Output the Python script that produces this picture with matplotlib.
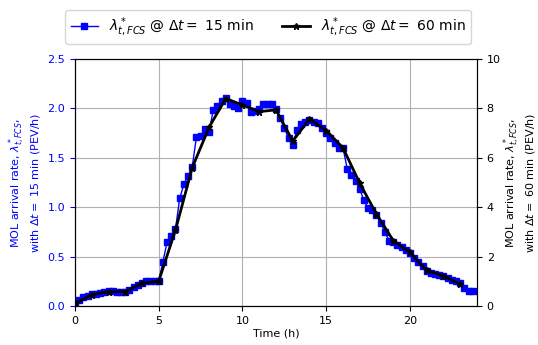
import numpy as np
from matplotlib import pyplot as plt

# 15-min rates (left axis, PEV/h per 15 min)
t15 = np.arange(96) * 0.25
rate15 = [0.03, 0.06, 0.09, 0.10, 0.12, 0.12, 0.13, 0.14,
          0.15, 0.15, 0.14, 0.14, 0.14, 0.16, 0.19, 0.21,
          0.23, 0.25, 0.25, 0.25, 0.25, 0.45, 0.65, 0.71,
          0.78, 1.09, 1.23, 1.32, 1.41, 1.71, 1.72, 1.79,
          1.76, 1.98, 2.02, 2.07, 2.11, 2.04, 2.02, 2.00,
          2.07, 2.05, 1.96, 1.97, 1.99, 2.04, 2.04, 2.04,
          1.99, 1.90, 1.80, 1.70, 1.63, 1.78, 1.84, 1.86,
          1.88, 1.86, 1.85, 1.80, 1.75, 1.70, 1.65, 1.60,
          1.60, 1.39, 1.33, 1.27, 1.18, 1.07, 0.99, 0.97,
          0.92, 0.84, 0.75, 0.66, 0.65, 0.62, 0.60, 0.57,
          0.54, 0.49, 0.45, 0.40, 0.35, 0.33, 0.32, 0.31,
          0.30, 0.28, 0.26, 0.25, 0.23, 0.18, 0.15, 0.15]

# hourly rates (right axis)
t60 = np.arange(24)
rate60 = [0.10, 0.45, 0.58, 0.58, 0.92, 1.01, 3.08, 5.60,
          7.23, 8.40, 8.14, 7.87, 7.94, 6.68, 7.57, 7.10,
          6.40, 4.97, 3.72, 2.65, 2.17, 1.44, 1.22, 0.88]

fig = plt.figure(figsize=(5.38, 3.45), dpi=100)
ax = fig.add_axes([75 / 538, 39 / 345, 402 / 538, 247 / 345])
ax2 = ax.twinx()

l1, = ax.plot(t15, rate15, color='blue', marker='s', markersize=5, linewidth=1,
              label=r'$\lambda^*_{t,FCS}$ @ $\Delta t=$ 15 min')
l2, = ax2.plot(t60, rate60, color='black', marker='*', markersize=5, linewidth=2,
               label=r'$\lambda^*_{t,FCS}$ @ $\Delta t=$ 60 min')

ax.set_xlim(0, 24)
ax.set_ylim(0, 2.5)
ax2.set_ylim(0, 10)
ax.set_xticks([0, 5, 10, 15, 20])
ax.set_yticks([0, 0.5, 1.0, 1.5, 2.0, 2.5])
ax2.set_yticks([0, 2, 4, 6, 8, 10])
ax.grid(True, color='#b0b0b0', linewidth=0.8)

ax.tick_params(axis='y', colors='blue', labelsize=8)
ax.tick_params(axis='x', labelsize=8)
ax2.tick_params(axis='y', labelsize=8)
ax.set_xlabel('Time (h)', fontsize=8, labelpad=2)
ax.set_ylabel('MOL arrival rate, $\\lambda^*_{t,FCS}$,\nwith $\\Delta t=$ 15 min (PEV/h)',
              color='blue', fontsize=8)
ax2.set_ylabel('MOL arrival rate, $\\lambda^*_{t,FCS}$,\nwith $\\Delta t=$ 60 min (PEV/h)',
               fontsize=8, labelpad=0)

fig.legend(handles=[l1, l2], loc='upper center', ncol=2, fontsize=10,
           bbox_to_anchor=(268 / 538, 1 - 3 / 345))

plt.savefig('out.png', dpi=100)
